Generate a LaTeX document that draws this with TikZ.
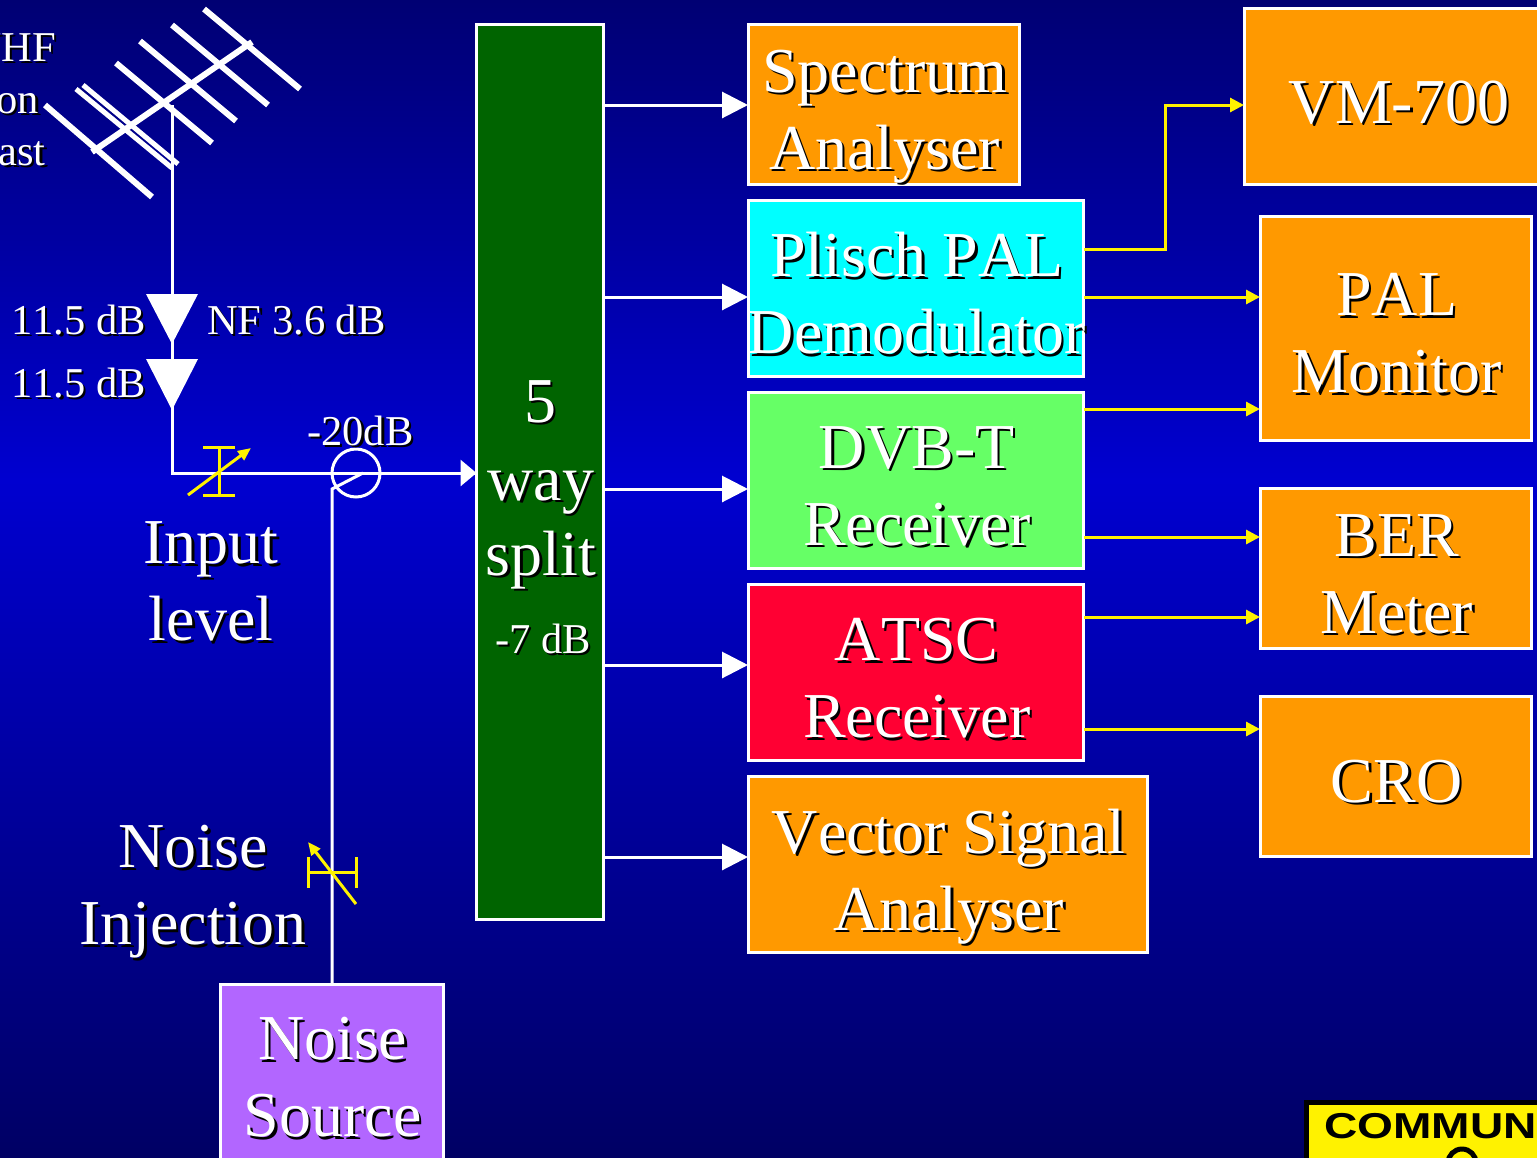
\documentclass[tikz,border=0pt]{standalone}
\usepackage{fontspec}
\setmainfont{Liberation Serif}[Kerning=Off]
\newfontfamily\logofont{Liberation Sans}[BoldFont={Liberation Sans Bold}]
\usetikzlibrary{arrows.meta}
\newcommand\sh[1]{\leavevmode\rlap{\kern2.5pt\raisebox{-2.5pt}{\textcolor{black}{#1}}}#1}
\definecolor{orangebox}{RGB}{255,153,0}
\definecolor{cyanbox}{RGB}{0,255,255}
\definecolor{greenbox}{RGB}{102,255,102}
\definecolor{redbox}{RGB}{255,0,51}
\definecolor{purplebox}{RGB}{178,102,255}
\definecolor{splitgreen}{RGB}{0,100,0}
\definecolor{bgtop}{RGB}{0,0,115}
\definecolor{bgmid}{RGB}{0,0,208}
\definecolor{bgbot}{RGB}{0,0,100}
\tikzset{
  box/.style={draw=white,line width=3pt,inner sep=0pt,outer sep=0pt,anchor=north west},
  biglabel/.style={text=white,align=center,inner sep=0pt,font=\fontsize{64}{77}\selectfont},
  boxtext/.style 2 args={label={[biglabel,xshift=1pt,yshift=#1,label distance=0pt]center:{#2}}},
  smalllabel/.style={text=white,inner sep=0pt,font=\fontsize{42.5}{50}\selectfont},
  wline/.style={draw=white,line width=3pt},
  warrow/.style={wline,-{Triangle[length=26pt,width=26pt]}},
  warrowsmall/.style={wline,-{Triangle[length=16pt,width=26pt]}},
  yarrow/.style={draw=yellow,line width=3pt,-{Triangle[length=14pt,width=14pt]}},
  ybar/.style={draw=yellow,line width=3pt},
  yadj/.style={draw=yellow,line width=3pt,-{Triangle[length=13pt,width=11pt]}},
  element/.style={draw=white,line width=6pt},
  amp/.style={fill=white,draw=none},
}
\begin{document}
\begin{tikzpicture}[x=1pt,y=-1pt]
\useasboundingbox (0,0) rectangle (1537,1157);
\clip (0,0) rectangle (1537,1157);
\shade[top color=bgtop,bottom color=bgmid] (0,0) rectangle (1537,480);
\shade[top color=bgmid,bottom color=bgbot] (0,480) rectangle (1537,1157);

% antenna
\coordinate (feed) at (172,105);
\draw[element] (45,105) -- (152,197);
\draw[element,line width=5pt] (76,89) -- (172,168);
\draw[element,line width=5pt] (83,85) -- (178,164);
\draw[element] (116,63) -- (212,143);
\draw[element] (140,41) -- (236,121);
\draw[element] (172,25) -- (268,105);
\draw[element] (204,9) -- (300,89);
\draw[element] (92,152) -- (252,42);

% boxes
\node[box,fill=splitgreen,minimum width=127pt,minimum height=895pt] (split) at (476.5,24.5) {};
\node[box,fill=orangebox,minimum width=271.5pt,minimum height=160pt,boxtext={-13pt}{\sh{Spectrum}\\\sh{Analyser}}] (spec) at (748,24.5) {};
\node[box,fill=cyanbox,minimum width=335.5pt,minimum height=176pt,boxtext={-6pt}{\sh{Plisch PAL}\\\sh{Demodulator}}] (plisch) at (748,200.5) {};
\node[box,fill=greenbox,minimum width=335.5pt,minimum height=176pt,boxtext={-7pt}{\sh{DVB-T}\\\sh{Receiver}}] (dvb) at (748,392.5) {};
\node[box,fill=redbox,minimum width=335.5pt,minimum height=176pt,boxtext={-7pt}{\sh{ATSC}\\\sh{Receiver}}] (atsc) at (748,584.5) {};
\node[box,fill=orangebox,minimum width=399.5pt,minimum height=176pt,boxtext={-13pt}{\sh{Vector Signal}\\\sh{Analyser}}] (vsa) at (748,776.5) {};
\node[box,fill=orangebox,minimum width=308pt,minimum height=176pt,boxtext={-7pt}{\sh{VM-700}}] (vm) at (1244,8.5) {};
\node[box,fill=orangebox,minimum width=271.5pt,minimum height=224pt,boxtext={-6pt}{\sh{PAL}\\\sh{Monitor}}] (pal) at (1260,216.5) {};
\node[box,fill=orangebox,minimum width=271.5pt,minimum height=160pt,boxtext={-7pt}{\sh{BER}\\\sh{Meter}}] (ber) at (1260,488.5) {};
\node[box,fill=orangebox,minimum width=271.5pt,minimum height=160pt,boxtext={-6pt}{\sh{CRO}}] (cro) at (1260,696.5) {};
\node[box,fill=purplebox,minimum width=223.5pt,minimum height=192pt,boxtext={2pt}{\sh{Noise}\\\sh{Source}}] (source) at (220,984.5) {};

% split text
\node[biglabel,anchor=base] (five) at (540,422) {\sh{5}};
\node[biglabel,anchor=base] (way) at (541,500) {\sh{way}};
\node[biglabel,anchor=base] (splt) at (541,575) {\sh{split}};
\node[smalllabel,anchor=base] (seven) at (543,653) {\sh{-7 dB}};

% white arrows
\draw[warrow] (split.east |- 0,105) -- (spec.west |- 0,105);
\draw[warrow] (split.east |- 0,297) -- (plisch.west |- 0,297);
\draw[warrow] (split.east |- 0,489) -- (dvb.west |- 0,489);
\draw[warrow] (split.east |- 0,665) -- (atsc.west |- 0,665);
\draw[warrow] (split.east |- 0,857) -- (vsa.west |- 0,857);

% yellow arrows
\draw[yarrow] (plisch.east |- 0,249) -- (1165,249) -- (1165,105) -- (vm.west |- 0,105);
\draw[yarrow] (plisch.east |- 0,297) -- (pal.west |- 0,297);
\draw[yarrow] (dvb.east |- 0,409) -- (pal.west |- 0,409);
\draw[yarrow] (dvb.east |- 0,537) -- (ber.west |- 0,537);
\draw[yarrow] (atsc.east |- 0,617) -- (ber.west |- 0,617);
\draw[yarrow] (atsc.east |- 0,729) -- (cro.west |- 0,729);

% amplifier chain
\node[amp,inner sep=0pt] (amp1) at (172,318) {};
\node[amp,inner sep=0pt] (amp2) at (172,384) {};
\fill[white] (146,294) -- (198,294) -- (172,344) -- cycle;
\fill[white] (146,359) -- (198,359) -- (172,410) -- cycle;
\draw[wline] (feed) -- (amp1);
\draw[wline] (amp1) -- (amp2);
\coordinate (corner) at (172,473);
\draw[wline,line cap=rect] (amp2) -- (corner);
\node[circle,draw=white,line width=3pt,minimum size=48pt,inner sep=0pt,outer sep=0pt] (coupler) at (356,473) {};
\draw[wline] (corner) -- (split.west |- corner);
\draw[warrowsmall] (coupler.east) -- (split.west |- coupler.east);
\coordinate (tap) at (363,473);
\coordinate (bend) at (332,489);
\draw[wline] (tap) -- (bend) -- (source.north -| bend);

% attenuators
\draw[ybar] (203,447) -- (235,447);
\draw[ybar] (203,495) -- (235,495);
\draw[ybar] (219,447) -- (219,495);
\draw[yadj] (188,495) -- (251,448);
\draw[ybar] (308,857) -- (308,888);
\draw[ybar] (356,857) -- (356,888);
\draw[ybar] (308,872) -- (356,872);
\draw[yadj] (356,904) -- (308,842);

% labels
\node[smalllabel,anchor=base west] (g1) at (11,334) {\sh{11.5 dB}};
\node[smalllabel,anchor=base west] (g2) at (11,397) {\sh{11.5 dB}};
\node[smalllabel,anchor=base west] (nf) at (207,334) {\sh{NF 3.6 dB}};
\node[smalllabel,anchor=base west] (cpl) at (307,445) {\sh{-20dB}};
\node[biglabel] (input) at (211,583) {\sh{Input}\\\sh{level}};
\node[biglabel] (inj) at (193,893) {\sh{Noise}\\\sh{Injection}};
\node[smalllabel,anchor=base east] (l1) at (56,61) {\sh{VHF}};
\node[smalllabel,anchor=base east] (l2) at (39,113) {\sh{on}};
\node[smalllabel,anchor=base east] (l3) at (46,165) {\sh{ast}};

% logo
\node[draw=black,line width=5pt,fill=yellow,minimum width=260pt,minimum height=70pt,inner sep=0pt,outer sep=0pt,anchor=north west] (logo) at (1306.5,1102.5) {};
\node[anchor=base west,inner sep=0pt,text=black,font=\logofont\bfseries\fontsize{36}{40}\selectfont,xscale=1.28] (logotext) at (1324,1138) {COMMUN};
\draw[black,line width=5pt] (1462,1163) circle (14);
\end{tikzpicture}
\end{document}
